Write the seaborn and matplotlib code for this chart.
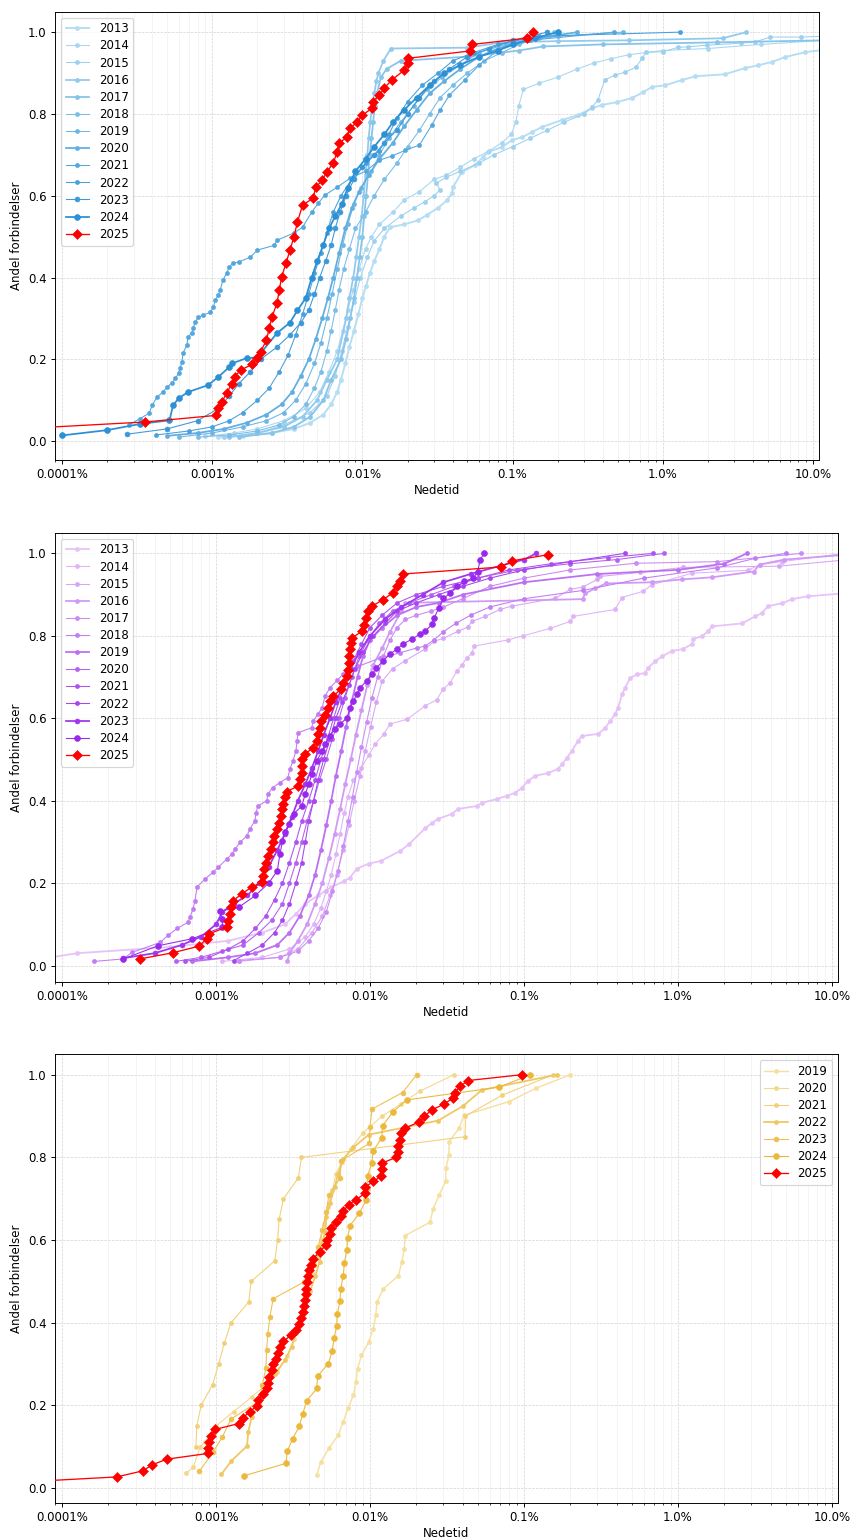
import matplotlib
matplotlib.use("Agg")
import matplotlib.pyplot as plt
import matplotlib.ticker as mticker
import seaborn as sns

# Nedetid i prosent (x) og andel forbindelser (y), lest av figuren

# ---- Panel 1 (blå) ----
blue_2013 = [(0.0011, 0.010), (0.0016, 0.013), (0.0025, 0.020), (0.0035, 0.030), (0.0045, 0.045), (0.0055, 0.065),
             (0.0062, 0.090), (0.0068, 0.120), (0.0072, 0.150), (0.0077, 0.190), (0.0082, 0.230), (0.0088, 0.270),
             (0.0094, 0.310), (0.0100, 0.350), (0.0106, 0.380), (0.0112, 0.410), (0.0120, 0.440), (0.0130, 0.470),
             (0.0140, 0.500), (0.0153, 0.523), (0.0190, 0.530), (0.0235, 0.540), (0.0269, 0.553), (0.0318, 0.570),
             (0.0366, 0.589), (0.0395, 0.606), (0.0401, 0.621), (0.0460, 0.658), (0.0562, 0.675), (0.0635, 0.694),
             (0.0686, 0.707), (0.085, 0.719), (0.099, 0.736), (0.1155, 0.743), (0.135, 0.756), (0.157, 0.768),
             (0.213, 0.785), (0.272, 0.797), (0.338, 0.814), (0.394, 0.822), (0.496, 0.829), (0.624, 0.839),
             (0.738, 0.853), (0.847, 0.866), (1.035, 0.870), (1.343, 0.883), (1.64, 0.892), (2.59, 0.897),
             (3.52, 0.912), (4.31, 0.919), (5.33, 0.927), (6.51, 0.939), (8.85, 0.951), (14.0, 0.960)]
blue_2014 = [(0.0009, 0.012), (0.0014, 0.02), (0.002, 0.03), (0.003, 0.05), (0.0042, 0.08), (0.0052, 0.12),
             (0.006, 0.17), (0.0068, 0.22), (0.0074, 0.27), (0.008, 0.32), (0.0087, 0.37), (0.0095, 0.42),
             (0.0105, 0.47), (0.0115, 0.50), (0.013, 0.53), (0.016, 0.56), (0.019, 0.59), (0.024, 0.61),
             (0.03, 0.64), (0.036, 0.65), (0.045, 0.67), (0.055, 0.69), (0.07, 0.71), (0.085, 0.73),
             (0.098, 0.75), (0.105, 0.78), (0.11, 0.82), (0.118, 0.86), (0.15, 0.875), (0.2, 0.89),
             (0.27, 0.91), (0.35, 0.925), (0.45, 0.935), (0.6, 0.945), (1.0, 0.955), (2.0, 0.96),
             (4.5, 0.97), (12.0, 0.98)]
blue_2015 = [(0.0012, 0.01), (0.002, 0.02), (0.003, 0.04), (0.0045, 0.07), (0.0058, 0.11), (0.0066, 0.16),
             (0.0073, 0.22), (0.008, 0.28), (0.0088, 0.34), (0.0097, 0.40), (0.0108, 0.45), (0.012, 0.49),
             (0.014, 0.52), (0.018, 0.55), (0.022, 0.57), (0.026, 0.585), (0.03, 0.60), (0.033, 0.615),
             (0.031, 0.63), (0.036, 0.645), (0.045, 0.66), (0.06, 0.68), (0.075, 0.70), (0.1, 0.72),
             (0.13, 0.74), (0.17, 0.76), (0.22, 0.78), (0.3, 0.80), (0.338, 0.817), (0.37, 0.834),
             (0.41, 0.883), (0.48, 0.895), (0.56, 0.902), (0.66, 0.914), (0.73, 0.936), (0.77, 0.951),
             (1.0, 0.952), (1.27, 0.963), (1.46, 0.964), (1.96, 0.968), (3.3, 0.973), (4.1, 0.976),
             (5.2, 0.988), (8.3, 0.988), (12.0, 0.99)]
blue_2016 = [(0.0013, 0.01), (0.002, 0.02), (0.003, 0.035), (0.004, 0.06), (0.005, 0.1), (0.0058, 0.15),
             (0.0068, 0.2), (0.0078, 0.3), (0.0082, 0.35), (0.0087, 0.4), (0.0091, 0.45), (0.0095, 0.5),
             (0.0099, 0.55), (0.0102, 0.6), (0.0105, 0.65), (0.0108, 0.7), (0.011, 0.74), (0.0113, 0.78),
             (0.0116, 0.82), (0.012, 0.85), (0.0124, 0.88), (0.0128, 0.9), (0.0138, 0.93), (0.0155, 0.96),
             (0.05, 0.962), (0.085, 0.975), (0.2, 0.978), (0.6, 0.98), (2.5, 0.985), (3.6, 1.0)]
blue_2017 = [(0.0015, 0.01), (0.0025, 0.02), (0.0035, 0.035), (0.0045, 0.06), (0.0055, 0.1), (0.0062, 0.15),
             (0.0072, 0.2), (0.0078, 0.25), (0.0083, 0.3), (0.0088, 0.35), (0.0092, 0.4), (0.0096, 0.45),
             (0.01, 0.5), (0.0103, 0.55), (0.0106, 0.6), (0.0109, 0.65), (0.0112, 0.7), (0.0115, 0.74),
             (0.0118, 0.78), (0.0121, 0.82), (0.0125, 0.85), (0.0133, 0.89), (0.0145, 0.91), (0.018, 0.93),
             (0.05, 0.94), (0.11, 0.955), (0.16, 0.965), (0.4, 0.97), (2.3, 0.975), (12.0, 0.98)]
blue_2018 = [(0.0008, 0.01), (0.0013, 0.015), (0.002, 0.025), (0.0028, 0.04), (0.0035, 0.06), (0.0042, 0.09),
             (0.0048, 0.13), (0.0053, 0.17), (0.0058, 0.22), (0.0062, 0.27), (0.0066, 0.32), (0.007, 0.37),
             (0.0075, 0.42), (0.0082, 0.47), (0.009, 0.52), (0.0105, 0.56), (0.012, 0.6), (0.014, 0.64),
             (0.017, 0.68), (0.02, 0.72), (0.024, 0.76), (0.028, 0.8), (0.033, 0.84), (0.04, 0.87),
             (0.05, 0.9), (0.065, 0.93), (0.085, 0.95), (0.11, 0.97), (0.15, 0.985), (0.19, 1.0)]
blue_2019 = [(0.0006, 0.01), (0.001, 0.02), (0.0016, 0.035), (0.0023, 0.05), (0.003, 0.07), (0.0036, 0.1),
             (0.0042, 0.14), (0.0048, 0.19), (0.0053, 0.24), (0.0058, 0.3), (0.0063, 0.36), (0.0068, 0.42),
             (0.0074, 0.48), (0.008, 0.53), (0.0088, 0.58), (0.0098, 0.62), (0.0115, 0.66), (0.013, 0.70),
             (0.015, 0.74), (0.018, 0.78), (0.022, 0.82), (0.027, 0.86), (0.034, 0.89), (0.045, 0.92),
             (0.06, 0.95), (0.09, 0.97), (0.13, 0.98), (0.2, 0.99), (0.54, 1.0)]
blue_2020 = [(0.0005, 0.013), (0.0008, 0.02), (0.0012, 0.03), (0.0017, 0.045), (0.0023, 0.065), (0.0029, 0.09),
             (0.0034, 0.12), (0.0039, 0.16), (0.0044, 0.2), (0.0049, 0.25), (0.0054, 0.3), (0.0059, 0.35),
             (0.0064, 0.4), (0.007, 0.46), (0.0077, 0.52), (0.0085, 0.57), (0.0095, 0.61), (0.011, 0.65),
             (0.013, 0.69), (0.016, 0.73), (0.019, 0.77), (0.023, 0.81), (0.028, 0.85), (0.035, 0.88),
             (0.045, 0.91), (0.06, 0.94), (0.08, 0.96), (0.12, 0.98), (0.27, 1.0)]
blue_2021 = [(0.00028, 0.04), (0.00033, 0.055), (0.00038, 0.068), (0.0004, 0.088), (0.00043, 0.108),
             (0.00047, 0.12), (0.0005, 0.132), (0.00054, 0.142), (0.00057, 0.154), (0.0006, 0.166),
             (0.00061, 0.178), (0.00063, 0.193), (0.00064, 0.215), (0.00068, 0.235), (0.00069, 0.254),
             (0.00073, 0.264), (0.00075, 0.276), (0.00077, 0.291), (0.00081, 0.303), (0.00087, 0.308),
             (0.00097, 0.315), (0.00102, 0.328), (0.00105, 0.345), (0.0011, 0.357), (0.00113, 0.369),
             (0.00118, 0.394), (0.00125, 0.411), (0.0013, 0.425), (0.00137, 0.435), (0.0015, 0.438),
             (0.0018, 0.45), (0.002, 0.467), (0.0026, 0.479), (0.0027, 0.491), (0.0035, 0.509), (0.004, 0.523),
             (0.0046, 0.56), (0.0051, 0.582), (0.0056, 0.601), (0.0068, 0.621), (0.0083, 0.643), (0.0105, 0.66),
             (0.013, 0.687), (0.0157, 0.697), (0.0193, 0.711), (0.024, 0.724), (0.029, 0.773), (0.033, 0.81),
             (0.038, 0.846), (0.048, 0.883), (0.06, 0.92), (0.08, 0.956), (0.13, 0.98), (0.47, 1.0)]
blue_2022 = [(0.00042, 0.015), (0.0007, 0.025), (0.001, 0.035), (0.0013, 0.05), (0.0016, 0.07), (0.002, 0.1),
             (0.0024, 0.13), (0.0028, 0.17), (0.0032, 0.21), (0.0036, 0.26), (0.004, 0.31), (0.0044, 0.36),
             (0.0048, 0.41), (0.0053, 0.46), (0.0058, 0.51), (0.0064, 0.56), (0.0072, 0.6), (0.0085, 0.64),
             (0.0105, 0.68), (0.013, 0.71), (0.015, 0.75), (0.017, 0.79), (0.02, 0.83), (0.025, 0.87),
             (0.032, 0.9), (0.04, 0.93), (0.055, 0.95), (0.08, 0.97), (0.15, 0.99), (1.3, 1.0)]
blue_2023 = [(0.00027, 0.017), (0.0005, 0.03), (0.0008, 0.05), (0.0011, 0.08), (0.0013, 0.11), (0.0015, 0.14),
             (0.0018, 0.17), (0.0021, 0.2), (0.0027, 0.23), (0.0033, 0.26), (0.0039, 0.29), (0.0044, 0.32),
             (0.0048, 0.36), (0.0052, 0.4), (0.0057, 0.44), (0.0062, 0.48), (0.0066, 0.52), (0.0071, 0.56),
             (0.0078, 0.6), (0.0088, 0.64), (0.010, 0.67), (0.012, 0.70), (0.014, 0.73), (0.017, 0.76),
             (0.02, 0.8), (0.024, 0.84), (0.03, 0.88), (0.038, 0.91), (0.05, 0.94), (0.07, 0.96),
             (0.1, 0.98), (0.17, 1.0)]
blue_2024 = [(0.0001, 0.014), (0.0002, 0.027), (0.00033, 0.042), (0.00052, 0.051), (0.00055, 0.088),
             (0.0006, 0.105), (0.00069, 0.12), (0.00094, 0.137), (0.0011, 0.157), (0.0013, 0.181),
             (0.00135, 0.19), (0.0017, 0.203), (0.002, 0.205), (0.0027, 0.264), (0.0033, 0.29), (0.0037, 0.32),
             (0.0042, 0.35), (0.0046, 0.4), (0.005, 0.44), (0.0055, 0.48), (0.006, 0.52), (0.0066, 0.55),
             (0.0073, 0.58), (0.008, 0.62), (0.009, 0.66), (0.0105, 0.69), (0.012, 0.72), (0.014, 0.75),
             (0.016, 0.78), (0.019, 0.81), (0.023, 0.84), (0.028, 0.87), (0.035, 0.9), (0.045, 0.92),
             (0.06, 0.94), (0.08, 0.955), (0.1, 0.97), (0.14, 0.985), (0.2, 1.0)]
blue_2025 = [(0.00001, 0.016), (0.00036, 0.047), (0.00106, 0.063), (0.0011, 0.08), (0.00116, 0.096),
             (0.00125, 0.117), (0.00135, 0.141), (0.00141, 0.157), (0.00155, 0.174), (0.00185, 0.188),
             (0.00198, 0.203), (0.0021, 0.218), (0.0023, 0.247), (0.0024, 0.276), (0.0025, 0.303),
             (0.0027, 0.337), (0.0028, 0.369), (0.0029, 0.401), (0.0031, 0.435), (0.0033, 0.467),
             (0.0035, 0.499), (0.0037, 0.536), (0.004, 0.577), (0.0047, 0.594), (0.0049, 0.621),
             (0.0054, 0.638), (0.0058, 0.658), (0.0064, 0.68), (0.0068, 0.707), (0.007, 0.729),
             (0.0079, 0.743), (0.0083, 0.765), (0.0092, 0.78), (0.01, 0.797), (0.0116, 0.814),
             (0.0117, 0.829), (0.013, 0.846), (0.014, 0.863), (0.0157, 0.883), (0.019, 0.907),
             (0.02, 0.924), (0.0201, 0.936), (0.052, 0.954), (0.054, 0.97), (0.124, 0.985), (0.137, 1.0)]

# ---- Panel 2 (lilla) ----
purple_2013 = [(0.00007, 0.015), (0.000126, 0.03), (0.0005, 0.045), (0.0012, 0.06), (0.002, 0.08),
               (0.0028, 0.1), (0.0033, 0.125), (0.0038, 0.15), (0.0046, 0.17), (0.0056, 0.19), (0.0068, 0.205),
               (0.0074, 0.213), (0.0082, 0.235), (0.0098, 0.247), (0.0118, 0.254), (0.0157, 0.278),
               (0.018, 0.295), (0.0228, 0.333), (0.0253, 0.346), (0.0277, 0.356), (0.0341, 0.368),
               (0.0373, 0.38), (0.0495, 0.387), (0.0534, 0.395), (0.0668, 0.404), (0.0776, 0.412),
               (0.0875, 0.419), (0.097, 0.431), (0.106, 0.448), (0.118, 0.46), (0.143, 0.467), (0.166, 0.477),
               (0.177, 0.489), (0.19, 0.504), (0.205, 0.521), (0.224, 0.545), (0.238, 0.557), (0.303, 0.562),
               (0.336, 0.576), (0.362, 0.593), (0.39, 0.61), (0.408, 0.625), (0.433, 0.658), (0.453, 0.673),
               (0.488, 0.697), (0.542, 0.707), (0.611, 0.709), (0.639, 0.722), (0.709, 0.738), (0.787, 0.75),
               (0.914, 0.763), (1.077, 0.768), (1.233, 0.78), (1.25, 0.792), (1.432, 0.799), (1.567, 0.811),
               (1.663, 0.823), (2.61, 0.83), (3.16, 0.847), (3.51, 0.855), (3.84, 0.872), (4.73, 0.879),
               (5.5, 0.889), (6.98, 0.896), (14.0, 0.905)]
purple_2014 = [(0.0011, 0.01), (0.002, 0.02), (0.003, 0.04), (0.0038, 0.07), (0.0043, 0.1), (0.0048, 0.14),
               (0.0052, 0.18), (0.0056, 0.22), (0.006, 0.27), (0.0064, 0.32), (0.0068, 0.37), (0.0072, 0.41),
               (0.0078, 0.45), (0.0088, 0.48), (0.0098, 0.51), (0.0108, 0.537), (0.0123, 0.562),
               (0.0135, 0.586), (0.0175, 0.598), (0.0228, 0.63), (0.0272, 0.645), (0.0297, 0.67),
               (0.033, 0.685), (0.0366, 0.714), (0.0397, 0.73), (0.0424, 0.746), (0.0459, 0.758),
               (0.0473, 0.775), (0.0787, 0.79), (0.0986, 0.80), (0.1475, 0.818), (0.2, 0.835), (0.208, 0.847),
               (0.39, 0.864), (0.433, 0.893), (0.593, 0.908), (0.678, 0.924), (1.233, 0.952), (2.85, 0.959),
               (3.41, 0.973), (4.73, 0.98), (12.0, 1.0)]
purple_2015 = [(0.0014, 0.01), (0.0026, 0.02), (0.0034, 0.04), (0.0042, 0.08), (0.0049, 0.12), (0.0055, 0.17),
               (0.0061, 0.22), (0.0067, 0.28), (0.0073, 0.34), (0.0079, 0.4), (0.0086, 0.46), (0.0093, 0.52),
               (0.0101, 0.58), (0.011, 0.64), (0.012, 0.69), (0.014, 0.72), (0.017, 0.74), (0.0228, 0.768),
               (0.0262, 0.787), (0.03, 0.794), (0.0373, 0.811), (0.043, 0.821), (0.046, 0.835), (0.056, 0.847),
               (0.07, 0.864), (0.083, 0.872), (0.16, 0.891), (0.2, 0.913), (0.24, 0.918), (0.3, 0.937),
               (0.31, 0.944), (0.57, 0.954), (1.08, 0.966), (4.5, 0.969), (13.0, 0.985)]
purple_2016 = [(0.0029, 0.01), (0.003, 0.03), (0.0034, 0.06), (0.0039, 0.1), (0.0044, 0.15), (0.0049, 0.2),
               (0.0054, 0.26), (0.0059, 0.32), (0.0064, 0.38), (0.0069, 0.44), (0.0075, 0.5), (0.0081, 0.56),
               (0.0088, 0.62), (0.0096, 0.68), (0.0105, 0.73), (0.012, 0.77), (0.0135, 0.81), (0.016, 0.86),
               (0.017, 0.88), (0.24, 0.889), (0.25, 0.903), (0.29, 0.915), (0.34, 0.927), (0.68, 0.93),
               (1.07, 0.937), (1.66, 0.942), (3.1, 0.956), (3.4, 0.973), (4.9, 0.985), (16.0, 1.0)]
purple_2017 = [(0.0014, 0.012), (0.0026, 0.02), (0.0034, 0.035), (0.004, 0.06), (0.0046, 0.09), (0.0052, 0.13),
               (0.0057, 0.18), (0.0062, 0.23), (0.0067, 0.29), (0.0072, 0.35), (0.0077, 0.41), (0.0082, 0.47),
               (0.0088, 0.53), (0.0095, 0.59), (0.0103, 0.65), (0.0112, 0.7), (0.0122, 0.75), (0.0135, 0.79),
               (0.015, 0.82), (0.017, 0.84), (0.02, 0.85), (0.025, 0.86), (0.03, 0.87), (0.04, 0.89),
               (0.06, 0.92), (0.1, 0.94), (0.2, 0.96), (0.53, 0.976), (1.8, 0.98), (6.3, 1.0)]
purple_2018 = [(0.000161, 0.01), (0.000249, 0.016), (0.000285, 0.032), (0.000433, 0.056), (0.000488, 0.073),
               (0.000558, 0.09), (0.000658, 0.105), (0.000677, 0.117), (0.00071, 0.138), (0.00073, 0.157),
               (0.000752, 0.19), (0.000848, 0.21), (0.000954, 0.226), (0.00103, 0.238), (0.00118, 0.259),
               (0.00127, 0.271), (0.00133, 0.283), (0.00143, 0.299), (0.00159, 0.315), (0.00166, 0.332),
               (0.00179, 0.351), (0.00182, 0.371), (0.00187, 0.387), (0.00214, 0.4), (0.00217, 0.416),
               (0.00234, 0.432), (0.0026, 0.444), (0.00293, 0.456), (0.00302, 0.477), (0.00316, 0.496),
               (0.0033, 0.52), (0.00336, 0.545), (0.00341, 0.565), (0.00419, 0.577), (0.00426, 0.593),
               (0.00459, 0.61), (0.00488, 0.625), (0.00511, 0.654), (0.0055, 0.674), (0.00611, 0.692),
               (0.00669, 0.707), (0.00743, 0.719), (0.00838, 0.726), (0.0116, 0.746), (0.0157, 0.759),
               (0.0203, 0.771), (0.0228, 0.775), (0.026, 0.79), (0.03, 0.81), (0.036, 0.83), (0.045, 0.85),
               (0.06, 0.87), (0.1, 0.89), (0.24, 0.91), (0.6, 0.94), (1.8, 0.965), (3.16, 0.988), (5.0, 1.0)]
purple_2019 = [(0.0007, 0.01), (0.0012, 0.02), (0.0018, 0.03), (0.0025, 0.05), (0.003, 0.08), (0.0035, 0.12),
               (0.004, 0.17), (0.0044, 0.22), (0.0048, 0.28), (0.0052, 0.34), (0.0056, 0.4), (0.006, 0.46),
               (0.0065, 0.52), (0.007, 0.58), (0.0076, 0.64), (0.0083, 0.7), (0.009, 0.75), (0.01, 0.79),
               (0.012, 0.82), (0.015, 0.85), (0.02, 0.87), (0.028, 0.88), (0.04, 0.9), (0.1, 0.93),
               (0.3, 0.95), (1.0, 0.96), (2.0, 0.975), (2.8, 1.0)]
purple_2020 = [(0.00055, 0.01), (0.0008, 0.02), (0.0011, 0.035), (0.0015, 0.05), (0.0019, 0.08), (0.0023, 0.11),
               (0.0027, 0.15), (0.003, 0.2), (0.0033, 0.25), (0.0036, 0.3), (0.0039, 0.35), (0.0043, 0.4),
               (0.0047, 0.45), (0.0052, 0.5), (0.0057, 0.55), (0.0063, 0.6), (0.0069, 0.65), (0.0076, 0.7),
               (0.0085, 0.75), (0.0097, 0.79), (0.0115, 0.83), (0.014, 0.86), (0.018, 0.88), (0.025, 0.9),
               (0.035, 0.92), (0.05, 0.94), (0.09, 0.96), (0.2, 0.975), (0.4, 0.985), (0.81, 1.0)]
purple_2021 = [(0.00063, 0.01), (0.0009, 0.02), (0.0012, 0.04), (0.0015, 0.06), (0.0018, 0.09), (0.0021, 0.12),
               (0.0024, 0.16), (0.0027, 0.2), (0.003, 0.25), (0.0033, 0.3), (0.0036, 0.35), (0.004, 0.4),
               (0.0044, 0.45), (0.0048, 0.5), (0.0053, 0.55), (0.0058, 0.6), (0.0064, 0.65), (0.007, 0.7),
               (0.0078, 0.74), (0.0088, 0.78), (0.01, 0.82), (0.012, 0.85), (0.015, 0.88), (0.02, 0.9),
               (0.03, 0.92), (0.05, 0.94), (0.08, 0.96), (0.15, 0.975), (0.35, 0.99), (0.69, 1.0)]
purple_2022 = [(0.0013, 0.012), (0.0016, 0.03), (0.002, 0.05), (0.0024, 0.08), (0.0027, 0.11), (0.003, 0.15),
               (0.0033, 0.2), (0.0036, 0.25), (0.0038, 0.3), (0.004, 0.35), (0.0043, 0.4), (0.0046, 0.45),
               (0.005, 0.5), (0.0055, 0.55), (0.006, 0.6), (0.0066, 0.64), (0.0073, 0.68), (0.008, 0.72),
               (0.009, 0.76), (0.0105, 0.8), (0.0125, 0.83), (0.015, 0.86), (0.02, 0.88), (0.028, 0.9),
               (0.04, 0.92), (0.06, 0.94), (0.1, 0.96), (0.2, 0.98), (0.45, 1.0)]
purple_2023 = [(0.00025, 0.018), (0.0004, 0.03), (0.0006, 0.05), (0.0008, 0.07), (0.001, 0.1), (0.0011, 0.13),
               (0.0013, 0.15), (0.0016, 0.17), (0.0019, 0.2), (0.0022, 0.24), (0.0025, 0.28), (0.0028, 0.32),
               (0.0031, 0.36), (0.0034, 0.4), (0.0038, 0.44), (0.0042, 0.48), (0.0046, 0.52), (0.005, 0.56),
               (0.0055, 0.6), (0.006, 0.64), (0.0067, 0.68), (0.0075, 0.72), (0.0085, 0.76), (0.01, 0.8),
               (0.0125, 0.84), (0.016, 0.87), (0.022, 0.9), (0.03, 0.93), (0.045, 0.95), (0.07, 0.97),
               (0.1, 0.985), (0.12, 1.0)]
purple_2024 = [(0.00025, 0.016), (0.00042, 0.048), (0.0007, 0.065), (0.0011, 0.093), (0.0011, 0.113),
               (0.00106, 0.132), (0.0014, 0.141), (0.0018, 0.17), (0.0022, 0.2), (0.0025, 0.23), (0.0026, 0.27),
               (0.0027, 0.302), (0.0028, 0.323), (0.003, 0.344), (0.0032, 0.368), (0.0036, 0.387),
               (0.0038, 0.416), (0.004, 0.44), (0.0042, 0.465), (0.0045, 0.496), (0.0049, 0.521),
               (0.0051, 0.537), (0.0055, 0.557), (0.0059, 0.574), (0.0064, 0.586), (0.0071, 0.601),
               (0.0074, 0.625), (0.0078, 0.642), (0.0082, 0.658), (0.0086, 0.674), (0.0095, 0.69),
               (0.0103, 0.707), (0.011, 0.722), (0.0121, 0.738), (0.0134, 0.755), (0.015, 0.768),
               (0.0164, 0.78), (0.0187, 0.792), (0.0211, 0.804), (0.0228, 0.811), (0.0253, 0.828),
               (0.026, 0.843), (0.028, 0.867), (0.03, 0.891), (0.033, 0.903), (0.037, 0.92), (0.041, 0.932),
               (0.047, 0.94), (0.05, 0.956), (0.052, 0.985), (0.055, 1.0)]
purple_2025 = [(0.00032, 0.016), (0.000523, 0.031), (0.000776, 0.047), (0.00087, 0.065), (0.0009, 0.077),
               (0.00117, 0.093), (0.0012, 0.109), (0.00123, 0.125), (0.00125, 0.141), (0.00129, 0.157),
               (0.00147, 0.174), (0.0017, 0.19), (0.00198, 0.202), (0.00203, 0.218), (0.00206, 0.234),
               (0.0021, 0.25), (0.00219, 0.266), (0.00226, 0.282), (0.00233, 0.299), (0.00239, 0.315),
               (0.00248, 0.331), (0.00258, 0.347), (0.00264, 0.363), (0.0027, 0.379), (0.00274, 0.392),
               (0.00281, 0.408), (0.00288, 0.422), (0.00342, 0.436), (0.00351, 0.452), (0.0036, 0.468),
               (0.0036, 0.484), (0.00363, 0.5), (0.00378, 0.513), (0.00428, 0.529), (0.00451, 0.545),
               (0.00462, 0.561), (0.00473, 0.577), (0.00481, 0.593), (0.0051, 0.609), (0.00536, 0.625),
               (0.0055, 0.642), (0.00578, 0.654), (0.00645, 0.67), (0.00665, 0.686), (0.00706, 0.702),
               (0.00723, 0.718), (0.00734, 0.734), (0.00734, 0.751), (0.00741, 0.767), (0.0075, 0.783),
               (0.00767, 0.795), (0.00883, 0.811), (0.00914, 0.827), (0.00938, 0.843), (0.00966, 0.86),
               (0.0103, 0.872), (0.0122, 0.888), (0.014, 0.904), (0.0149, 0.92), (0.0157, 0.934),
               (0.0163, 0.95), (0.071, 0.967), (0.084, 0.982), (0.144, 0.997)]

# ---- Panel 3 (gul) ----
gold_2019 = [(0.0045, 0.031), (0.0048, 0.064), (0.0054, 0.096), (0.0062, 0.128), (0.0067, 0.16), (0.0072, 0.193),
             (0.0078, 0.225), (0.0081, 0.257), (0.0083, 0.289), (0.0088, 0.321), (0.0098, 0.353),
             (0.0105, 0.386), (0.0109, 0.418), (0.0111, 0.45), (0.0122, 0.482), (0.0153, 0.514),
             (0.0161, 0.547), (0.0167, 0.579), (0.0169, 0.611), (0.0245, 0.643), (0.0257, 0.675),
             (0.0281, 0.709), (0.031, 0.742), (0.0311, 0.774), (0.0326, 0.806), (0.0326, 0.838),
             (0.0378, 0.87), (0.0408, 0.902), (0.0801, 0.935), (0.119, 0.967), (0.2, 1.0)]
gold_2020 = [(0.00064, 0.036), (0.00071, 0.05), (0.00079, 0.1), (0.00085, 0.112), (0.001, 0.15), (0.0013, 0.185),
             (0.0017, 0.22), (0.0021, 0.25), (0.0025, 0.28), (0.0029, 0.32), (0.0032, 0.36), (0.0035, 0.4),
             (0.0037, 0.44), (0.0039, 0.48), (0.0042, 0.52), (0.0045, 0.56), (0.0048, 0.6), (0.005, 0.64),
             (0.0053, 0.68), (0.0057, 0.72), (0.006, 0.76), (0.0066, 0.79), (0.0075, 0.82), (0.009, 0.86),
             (0.012, 0.9), (0.016, 0.93), (0.021, 0.96), (0.0351, 1.0)]
gold_2021 = [(0.00074, 0.1), (0.00075, 0.15), (0.0008, 0.2), (0.00095, 0.25), (0.00104, 0.3), (0.00113, 0.35),
             (0.00125, 0.4), (0.00163, 0.45), (0.00169, 0.5), (0.00241, 0.55), (0.00251, 0.6), (0.00257, 0.65),
             (0.00274, 0.7), (0.00342, 0.75), (0.00359, 0.8), (0.0414, 0.85), (0.0417, 0.9), (0.0716, 0.95),
             (0.155, 1.0)]
gold_2022 = [(0.00108, 0.033), (0.00126, 0.066), (0.00159, 0.102), (0.00162, 0.136), (0.0017, 0.171),
             (0.0019, 0.205), (0.0021, 0.241), (0.0024, 0.275), (0.0028, 0.309), (0.0031, 0.342),
             (0.0033, 0.376), (0.0035, 0.41), (0.0038, 0.444), (0.0041, 0.478), (0.0044, 0.512),
             (0.0047, 0.546), (0.0049, 0.591), (0.0051, 0.62), (0.0052, 0.655), (0.0055, 0.69),
             (0.0059, 0.728), (0.0062, 0.76), (0.0067, 0.796), (0.0078, 0.824), (0.0098, 0.855),
             (0.0277, 0.889), (0.0404, 0.925), (0.0532, 0.963), (0.163, 1.0)]
gold_2023 = [(0.00078, 0.041), (0.00096, 0.088), (0.0011, 0.124), (0.00125, 0.167), (0.0019, 0.21), (0.002, 0.25),
             (0.00211, 0.291), (0.00213, 0.333), (0.00217, 0.374), (0.00224, 0.415), (0.00235, 0.458),
             (0.0037, 0.498), (0.0043, 0.54), (0.0046, 0.583), (0.0049, 0.625), (0.0052, 0.667),
             (0.0054, 0.708), (0.0064, 0.75), (0.0065, 0.792), (0.0099, 0.834), (0.01, 0.874),
             (0.0103, 0.917), (0.0163, 0.957), (0.0201, 1.0)]
gold_2024 = [(0.00153, 0.03), (0.00285, 0.06), (0.0029, 0.089), (0.00315, 0.12), (0.00348, 0.15), (0.00366, 0.18),
             (0.00388, 0.211), (0.00451, 0.241), (0.00457, 0.271), (0.00536, 0.301), (0.00569, 0.332),
             (0.00583, 0.362), (0.00608, 0.392), (0.00613, 0.422), (0.00638, 0.452), (0.00645, 0.482),
             (0.00671, 0.514), (0.00681, 0.544), (0.00706, 0.575), (0.00716, 0.605), (0.00741, 0.635),
             (0.00853, 0.665), (0.00942, 0.696), (0.00952, 0.726), (0.00966, 0.756), (0.01026, 0.786),
             (0.0105, 0.816), (0.0119, 0.847), (0.0121, 0.877), (0.014, 0.909), (0.0173, 0.939),
             (0.069, 0.97), (0.11, 1.0)]
gold_2025 = [(0.000048, 0.0135), (0.000226, 0.027), (0.000337, 0.042), (0.000382, 0.056), (0.000479, 0.07),
             (0.000891, 0.084), (0.000891, 0.098), (0.000901, 0.112), (0.000928, 0.126), (0.000986, 0.142),
             (0.0014, 0.156), (0.00149, 0.17), (0.00165, 0.184), (0.00184, 0.199), (0.00187, 0.213),
             (0.00201, 0.227), (0.00213, 0.241), (0.00217, 0.255), (0.00222, 0.269), (0.0023, 0.285),
             (0.00233, 0.3), (0.00245, 0.313), (0.00252, 0.327), (0.0026, 0.341), (0.00274, 0.355),
             (0.00307, 0.37), (0.0033, 0.383), (0.00348, 0.398), (0.00356, 0.412), (0.00366, 0.426),
             (0.00374, 0.44), (0.00378, 0.454), (0.00384, 0.469), (0.00384, 0.482), (0.00388, 0.498),
             (0.00394, 0.512), (0.00403, 0.527), (0.00414, 0.54), (0.00428, 0.555), (0.00473, 0.572),
             (0.00515, 0.587), (0.00523, 0.601), (0.0055, 0.615), (0.00558, 0.629), (0.00599, 0.643),
             (0.00648, 0.659), (0.00671, 0.671), (0.00731, 0.686), (0.00811, 0.698), (0.00929, 0.713),
             (0.00929, 0.728), (0.0105, 0.742), (0.0118, 0.754), (0.0119, 0.772), (0.0119, 0.786),
             (0.0148, 0.8), (0.0151, 0.814), (0.0153, 0.828), (0.0157, 0.843), (0.0159, 0.858),
             (0.0169, 0.871), (0.0209, 0.886), (0.0225, 0.899), (0.0252, 0.915), (0.0303, 0.929),
             (0.0347, 0.944), (0.0356, 0.957), (0.0384, 0.972), (0.0435, 0.986), (0.0966, 1.0)]

years_13 = list(range(2013, 2025))
years_19 = list(range(2019, 2025))

blue_series = [blue_2013, blue_2014, blue_2015, blue_2016, blue_2017, blue_2018, blue_2019,
               blue_2020, blue_2021, blue_2022, blue_2023, blue_2024]
purple_series = [purple_2013, purple_2014, purple_2015, purple_2016, purple_2017, purple_2018, purple_2019,
                 purple_2020, purple_2021, purple_2022, purple_2023, purple_2024]
gold_series = [gold_2019, gold_2020, gold_2021, gold_2022, gold_2023, gold_2024]

# farger / stil
blue_colors = ['#b5ddf3', '#a9d7f1', '#9dd1ef', '#92caed', '#86c4ea', '#7abde7',
               '#6eb6e5', '#61afe2', '#55a8df', '#48a0dc', '#3b98d9', '#2c90d5']
purple_colors = ['#e6c2f8', '#dfb4f7', '#d8a6f6', '#d199f5', '#ca8bf4', '#c37df3',
                 '#bc6ff2', '#b561f1', '#ae53f0', '#a745ef', '#a037ee', '#9928ec']
gold_colors = ['#f5e09f', '#f3d88b', '#f1d077', '#efc863', '#edc04f', '#ebb83b']
blue_lw = [1.6, 0.9, 0.9, 1.5, 1.5, 0.9, 0.9, 1.5, 0.9, 0.9, 0.9, 1.5]
purple_lw = [1.5, 0.9, 0.9, 1.5, 0.9, 0.9, 1.5, 0.9, 0.9, 0.9, 1.5, 0.9]
gold_lw = [1.2, 0.9, 0.9, 1.5, 0.9, 0.9]
ms13 = [3.5, 3.5, 3.5, 3.5, 3.5, 3.5, 3.5, 3.5, 3.5, 3.5, 4.2, 5.0]
ms6 = [3.5, 3.5, 3.5, 3.5, 4.2, 5.0]

# figuren er laget i 10" bredde og skalert ned til 850 px
fig = plt.figure(figsize=(10, 18.106), dpi=85)
ax1 = fig.add_axes([0.0647, 0.7011, 0.8988, 0.2913])
ax2 = fig.add_axes([0.0647, 0.3619, 0.9212, 0.2919])
ax3 = fig.add_axes([0.0647, 0.0234, 0.9212, 0.2917])


def draw(ax, series, years, colors, lws, sizes, red, legend_loc, ylow):
    ax.set_xscale("log")
    for pts, yr, c, lw, ms in zip(series, years, colors, lws, sizes):
        sns.lineplot(x=[p[0] for p in pts], y=[p[1] for p in pts], sort=False, estimator=None,
                     color=c, linewidth=lw, marker="o", markersize=ms, markeredgecolor=c,
                     markeredgewidth=0.5, label=str(yr), ax=ax)
    sns.lineplot(x=[p[0] for p in red], y=[p[1] for p in red], sort=False, estimator=None,
                 color="red", linewidth=1.1, marker="D", markersize=6.5, markeredgecolor="red",
                 markeredgewidth=0.5, label="2025", ax=ax, zorder=5)
    ax.set_xlim(9e-5, 10.95)
    ax.set_ylim(ylow, 1.05)
    ax.xaxis.set_major_locator(mticker.LogLocator(base=10, numticks=12))
    ax.xaxis.set_minor_locator(mticker.LogLocator(base=10, subs=range(2, 10), numticks=12))
    ax.xaxis.set_major_formatter(mticker.FuncFormatter(lambda v, p: f"{v}%"))
    ax.xaxis.set_minor_formatter(mticker.NullFormatter())
    ax.set_yticks([0.0, 0.2, 0.4, 0.6, 0.8, 1.0])
    ax.grid(True, which="major", linestyle="--", linewidth=0.6, color="#d5d5d5")
    ax.grid(True, which="minor", axis="x", linestyle="-", linewidth=0.5, color="#eeeeee")
    ax.set_axisbelow(True)
    ax.set_xlabel("Nedetid", labelpad=2)
    ax.set_ylabel("Andel forbindelser")
    ax.legend(loc=legend_loc, labelspacing=0.35)


draw(ax1, blue_series, years_13, blue_colors, blue_lw, ms13, blue_2025, "upper left", -0.046)
draw(ax2, purple_series, years_13, purple_colors, purple_lw, ms13, purple_2025, "upper left", -0.04)
draw(ax3, gold_series, years_19, gold_colors, gold_lw, ms6, gold_2025, "upper right", -0.036)

fig.savefig("out.png", dpi=85)
